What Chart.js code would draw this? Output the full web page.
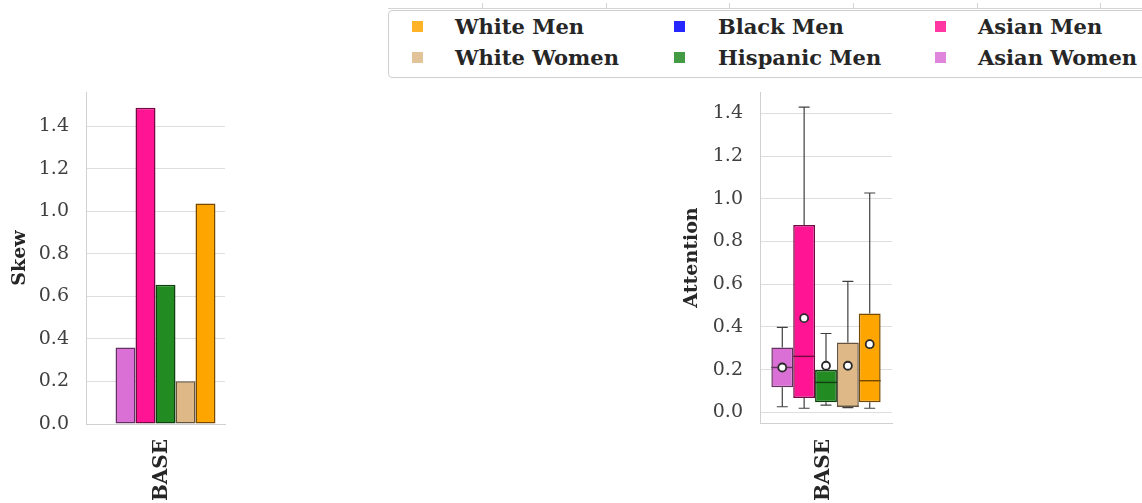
<!DOCTYPE html>
<html>
<head>
<meta charset="utf-8">
<script src="https://cdn.jsdelivr.net/npm/chart.js@4.4.1/dist/chart.umd.min.js"></script>
<style>
  html, body { margin: 0; padding: 0; background: #fff; }
  body { width: 1142px; height: 503px; position: relative; overflow: hidden; font-family: 'DejaVu Serif', serif; }
  #skewChart { position: absolute; left: 0; top: 0; }
  #attChart { position: absolute; left: 620px; top: 0; }
  #topAxis { position: absolute; left: 388px; top: 8px; width: 760px; height: 1px; background: #d4d4d4; }
  .tk { position: absolute; top: 3px; width: 1px; height: 5px; background: #d4d4d4; }
  #legend { position: absolute; left: 388px; top: 10px; width: 780px; height: 68px; box-sizing: border-box;
            border: 1px solid #cfcfcf; border-radius: 4px; background: #fff; }
  .lg-text { position: absolute; font-weight: bold; font-size: 21px; line-height: 24px; color: #262626; white-space: nowrap; }
  .lg-sw { position: absolute; width: 11px; height: 11px; opacity: 0.85; }
</style>
</head>
<body>
<div id="topAxis"></div>
<div id="legend"></div>
<canvas id="skewChart" width="380" height="503"></canvas>
<canvas id="attChart" width="400" height="503"></canvas>
<script>
// ---- data ----
const categories = ['BASE'];
const groups = ['Black Men', 'Asian Women', 'Asian Men', 'Hispanic Men', 'White Women', 'White Men'];
const groupColors = ['#0000FF', '#DA70D6', '#FF1493', '#228B22', '#DEB887', '#FFA500'];
const skewValues = [null, 0.360, 1.486, 0.654, 0.201, 1.036];
const yTickValues = [0.0, 0.2, 0.4, 0.6, 0.8, 1.0, 1.2, 1.4];

// attention distribution per group (no samples for Black Men)
const boxGroups = ['Asian Women', 'Asian Men', 'Hispanic Men', 'White Women', 'White Men'];
const attWhiskerLow  = [0.026, 0.019, 0.034, 0.022, 0.019];
const attQ1          = [0.117, 0.067, 0.047, 0.025, 0.047];
const attMedian      = [0.210, 0.262, 0.140, 0.028, 0.148];
const attQ3          = [0.304, 0.877, 0.198, 0.327, 0.463];
const attWhiskerHigh = [0.398, 1.429, 0.369, 0.613, 1.027];
const attMean        = [0.210, 0.441, 0.218, 0.218, 0.319];

const legendOrder = ['White Men', 'Black Men', 'Asian Men', 'White Women', 'Hispanic Men', 'Asian Women'];

// ---- legend ----
const colorOf = name => groupColors[groups.indexOf(name)];
const legendEl = document.getElementById('legend');
const colSwatch = [23, 285, 546];
const colText = [66, 329, 589];
const rowCenter = [15.5, 46.5];
legendOrder.forEach((name, i) => {
  const col = i % 3, row = Math.floor(i / 3);
  const sw = document.createElement('div');
  sw.className = 'lg-sw';
  sw.style.left = colSwatch[col] + 'px';
  sw.style.top = (rowCenter[row] - 5.5) + 'px';
  sw.style.background = colorOf(name);
  legendEl.appendChild(sw);
  const tx = document.createElement('div');
  tx.className = 'lg-text';
  tx.style.left = colText[col] + 'px';
  tx.style.top = (rowCenter[row] - 12) + 'px';
  tx.textContent = name;
  legendEl.appendChild(tx);
});

// partial axis along the top edge
const topTicks = [482, 606, 729, 853, 977, 1100];
topTicks.forEach(x => {
  const t = document.createElement('div');
  t.className = 'tk';
  t.style.left = x + 'px';
  document.body.appendChild(t);
});

// ---- shared styling ----
const FONT = 'DejaVu Serif';
const gridColor = '#dedede';
const spineColor = '#d0d0d0';

// darker shade of a fill colour, used for outlines
function darker(hex, f) {
  const n = parseInt(hex.slice(1), 16);
  const r = Math.round(((n >> 16) & 255) * f);
  const g = Math.round(((n >> 8) & 255) * f);
  const b = Math.round((n & 255) * f);
  return `rgb(${r},${g},${b})`;
}

function yAxis(min, max, title, width, titlePad) {
  return {
    min: min, max: max,
    afterBuildTicks: s => { s.ticks = yTickValues.map(v => ({ value: v })); },
    afterFit: s => { s.width = width; },
    grid: { color: gridColor, lineWidth: 1, drawTicks: false },
    border: { display: true, color: spineColor, width: 1 },
    ticks: { padding: 17, color: '#404040', font: { family: FONT, size: 19 },
             callback: v => Number(v).toFixed(1) },
    title: { display: true, text: title, color: '#262626',
             font: { family: FONT, size: 19, weight: 'bold' },
             padding: { top: titlePad, bottom: 0 } }
  };
}

function xAxis(height, pad, shift) {
  return {
    grid: { display: false, drawTicks: false },
    border: { display: true, color: spineColor, width: 1 },
    ticks: { minRotation: 90, maxRotation: 90, padding: pad, labelOffset: shift, color: '#262626',
             font: { family: FONT, size: 20, weight: 'bold' } },
    afterFit: s => { s.height = height; }
  };
}

// ---- Skew bar chart ----
new Chart(document.getElementById('skewChart'), {
  type: 'bar',
  data: {
    labels: categories,
    datasets: groups.map((g, i) => ({
      label: g,
      data: [skewValues[i]],
      backgroundColor: groupColors[i],
      borderColor: darker(groupColors[i], 0.45),
      borderWidth: 1.5,
      borderSkipped: false,
      categoryPercentage: 0.863,
      barPercentage: 1.0
    }))
  },
  options: {
    responsive: false,
    animation: false,
    layout: { padding: { left: 0, right: 155, top: 92, bottom: 0 } },
    plugins: { legend: { display: false }, tooltip: { enabled: false } },
    scales: { x: xAxis(79, 15, 6), y: yAxis(0, 1.56, 'Skew', 86, 8.6) }
  }
});

// ---- Attention box plot ----
// boxes are floating bars [Q1, Q3]; whiskers, medians and means are drawn from the same scales
const boxExtras = {
  id: 'boxExtras',
  afterDatasetsDraw(chart) {
    const ctx = chart.ctx;
    const y = chart.scales.y;
    ctx.save();
    chart.data.datasets.forEach((ds, i) => {
      const bar = chart.getDatasetMeta(i).data[0];
      if (!bar) return;
      const cx = bar.x, w = bar.width, cap = w / 4;
      const pLo = y.getPixelForValue(attWhiskerLow[i]);
      const pQ1 = y.getPixelForValue(attQ1[i]);
      const pMed = y.getPixelForValue(attMedian[i]);
      const pQ3 = y.getPixelForValue(attQ3[i]);
      const pHi = y.getPixelForValue(attWhiskerHigh[i]);
      ctx.strokeStyle = '#404040';
      ctx.lineWidth = 1.2;
      ctx.beginPath();
      ctx.moveTo(cx, pQ3); ctx.lineTo(cx, pHi);
      ctx.moveTo(cx - cap, pHi); ctx.lineTo(cx + cap, pHi);
      ctx.moveTo(cx, pQ1); ctx.lineTo(cx, pLo);
      ctx.moveTo(cx - cap, pLo); ctx.lineTo(cx + cap, pLo);
      ctx.stroke();
      ctx.strokeStyle = ds.borderColor;
      ctx.lineWidth = 1.4;
      ctx.beginPath();
      ctx.moveTo(cx - w / 2, pMed); ctx.lineTo(cx + w / 2, pMed);
      ctx.stroke();
      const pMean = y.getPixelForValue(attMean[i]);
      ctx.beginPath();
      ctx.arc(cx, pMean, 4, 0, Math.PI * 2);
      ctx.fillStyle = '#ffffff';
      ctx.fill();
      ctx.lineWidth = 1.8;
      ctx.strokeStyle = '#2a2a2a';
      ctx.stroke();
    });
    ctx.restore();
  }
};

new Chart(document.getElementById('attChart'), {
  type: 'bar',
  data: {
    labels: categories,
    datasets: boxGroups.map((g, i) => ({
      label: g,
      data: [[attQ1[i], attQ3[i]]],
      backgroundColor: colorOf(g),
      borderColor: darker(colorOf(g), 0.45),
      borderWidth: 1.5,
      borderSkipped: false,
      categoryPercentage: 0.828,
      barPercentage: 1.0
    }))
  },
  options: {
    responsive: false,
    animation: false,
    layout: { padding: { left: 52, right: 128, top: 92, bottom: 0 } },
    plugins: { legend: { display: false }, tooltip: { enabled: false } },
    scales: { x: xAxis(80, 16, -2), y: yAxis(-0.05, 1.50, 'Attention', 88, 8.6) }
  },
  plugins: [boxExtras]
});
</script>
</body>
</html>
